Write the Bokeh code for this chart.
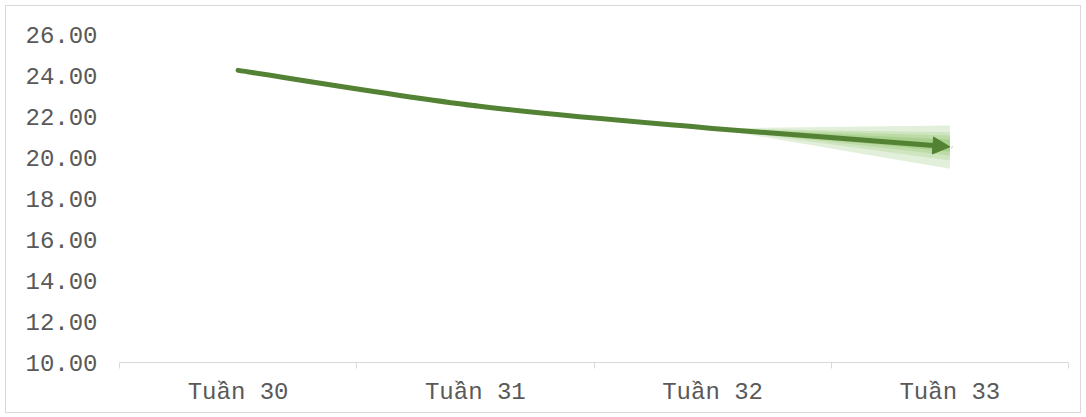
from bokeh.plotting import figure
from bokeh.models import FixedTicker, Range1d, Arrow, NormalHead, PrintfTickFormatter
from bokeh.embed import file_html
from bokeh.resources import INLINE

weeks = ["Tuần 30", "Tuần 31", "Tuần 32", "Tuần 33"]
values = [24.25, 22.52, 21.42, 20.52]
y_ticks = [10, 12, 14, 16, 18, 20, 22, 24, 26]
fan_top = [21.56, 21.23, 21.07, 20.88]
fan_bottom = [19.45, 19.85, 20.10, 20.28]
fan_colors = ["#E2EFDA", "#CFE5C0", "#BCDBA6", "#A9D18E"]

LINE = "#548235"
GREY = "#595959"
FONT = "Liberation Mono"

xs = [i + 0.5 for i in range(len(weeks))]

p = figure(width=1076, height=408, output_backend="svg", toolbar_location=None,
           x_range=Range1d(0, len(weeks)), y_range=Range1d(10, 26),
           min_border_left=113, min_border_right=14, min_border_top=28, min_border_bottom=52,
           styles={"border": "1px solid #D9D9D9", "margin-left": "5px", "margin-top": "5px"})
p.outline_line_color = None
p.grid.visible = False
p.background_fill_color = "white"

# fan band near the last segment
for t, b, c in zip(fan_top, fan_bottom, fan_colors):
    p.patch([xs[-2], xs[-1], xs[-1]], [values[-2], t, b], fill_color=c, line_color=None)

# smoothed line (Catmull-Rom -> bezier) for all but the last segment
pts = list(zip(xs, values))
n = len(pts)
for i in range(n - 2):
    p0 = pts[i - 1] if i > 0 else pts[i]
    p1 = pts[i]
    p2 = pts[i + 1]
    p3 = pts[i + 2] if i + 2 < n else pts[i + 1]
    c0 = (p1[0] + (p2[0] - p0[0]) / 6, p1[1] + (p2[1] - p0[1]) / 6)
    c1 = (p2[0] - (p3[0] - p1[0]) / 6, p2[1] - (p3[1] - p1[1]) / 6)
    p.bezier(x0=[p1[0]], y0=[p1[1]], x1=[p2[0]], y1=[p2[1]],
             cx0=[c0[0]], cy0=[c0[1]], cx1=[c1[0]], cy1=[c1[1]],
             line_color=LINE, line_width=5, line_cap="round")

# last segment with arrow head
p.add_layout(Arrow(end=NormalHead(size=17, fill_color=LINE, line_color=LINE, line_width=1),
                   x_start=xs[-2], y_start=values[-2], x_end=xs[-1], y_end=values[-1],
                   line_color=LINE, line_width=5, line_cap="round"))

# x axis: ticks at category boundaries, labels at centres
xa = p.xaxis[0]
xa.ticker = FixedTicker(ticks=xs, minor_ticks=list(range(len(weeks) + 1)))
xa.major_label_overrides = {x: w for x, w in zip(xs, weeks)}
xa.major_tick_in = 0
xa.major_tick_out = 0
xa.minor_tick_in = 0
xa.minor_tick_out = 6
xa.minor_tick_line_color = "#D9D9D9"
xa.axis_line_color = "#D9D9D9"
xa.major_label_text_font = FONT
xa.major_label_text_font_size = "24px"
xa.major_label_text_color = GREY
xa.major_label_standoff = 10

ya = p.yaxis[0]
ya.ticker = FixedTicker(ticks=y_ticks)
ya.formatter = PrintfTickFormatter(format="%.2f")
ya.axis_line_color = None
ya.major_tick_line_color = None
ya.minor_tick_line_color = None
ya.major_label_text_font = FONT
ya.major_label_text_font_size = "24px"
ya.major_label_text_color = GREY
ya.major_label_standoff = 16

open("out.html", "w").write(file_html(p, INLINE))
